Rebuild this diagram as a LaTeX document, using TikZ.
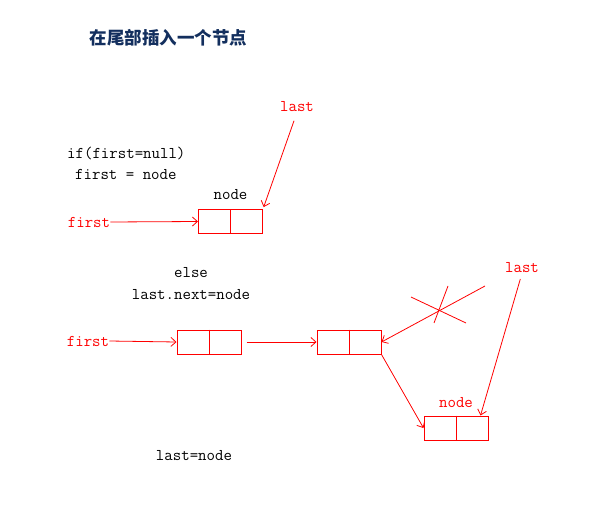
\documentclass[tikz,border=0pt]{standalone}
\usepackage{fontspec}
\newfontfamily\cjk{Noto Sans CJK SC}
\usetikzlibrary{arrows.meta,positioning}
\definecolor{Navy}{HTML}{132F5E}
\definecolor{Ptr}{HTML}{FF0000}
\tikzset{
 cell/.style={draw=Ptr,line width=1pt,minimum width=64pt,minimum height=24pt,inner sep=0pt},
 code/.style={font=\ttfamily\fontsize{16.4}{19}\selectfont,inner sep=0pt},
 ptr/.style={code,text=Ptr},
 arr/.style={-{Straight Barb[length=5pt,width=9pt]},draw=Ptr,line width=.8pt}
}
\begin{document}
\begin{tikzpicture}[x=1pt,y=-1pt]
\useasboundingbox (0,0) rectangle (605,516);
\node[anchor=west,text=Navy,font=\cjk\bfseries\fontsize{17.5}{20}\selectfont] (title) at (86,38) {在尾部插入一个节点};
% first = null
\node[code,anchor=west] (cond) at (67,153) {if(first=null)};
\node[code,anchor=west] (assign) at (75,174) {first = node};
\node[cell] (b1) at (230.5,221.5) {};
\node[code,above=9pt of b1] (lbl1) {node};
\node[ptr] (first1) at (89,222) {first};
\node[ptr] (last1) at (297,107) {last};
\draw[arr] (first1.east) -- (b1.west);
\draw[arr,shorten <=9pt,shorten >=2pt] (last1.south) -- (b1.north east);
% else
\node[code] (else) at (191,273) {else};
\node[code] (link) at (191,295) {last.next=node};
\node[cell] (b2) at (209,342) {};
\node[cell,right=75pt of b2] (b3) {};
\node[cell] (b4) at (456,428) {};
\node[ptr,above=8pt of b4] (lbl4) {node};
\node[ptr] (first2) at (88,341) {first};
\node[ptr] (last2) at (522,268) {last};
\coordinate (oldlast) at (485,286);
\foreach \b in {b1,b2,b3,b4}
 \draw[Ptr,line width=1pt] (\b.north) -- (\b.south);
\draw[arr] (first2.east) -- (b2.west);
\draw[arr,shorten <=5pt] (b2.east) -- (b3.west);
\draw[arr] (oldlast) -- (b3.east);
\draw[Ptr,line width=.8pt] (411,297) -- (466,323) (448,286) -- (434,323);
\draw[arr] (b3.south east) -- (b4.west);
\draw[arr,shorten <=6pt] (last2.south) -- ([xshift=-8pt]b4.north east);
\node[code] (done) at (194,456) {last=node};
\end{tikzpicture}
\end{document}
